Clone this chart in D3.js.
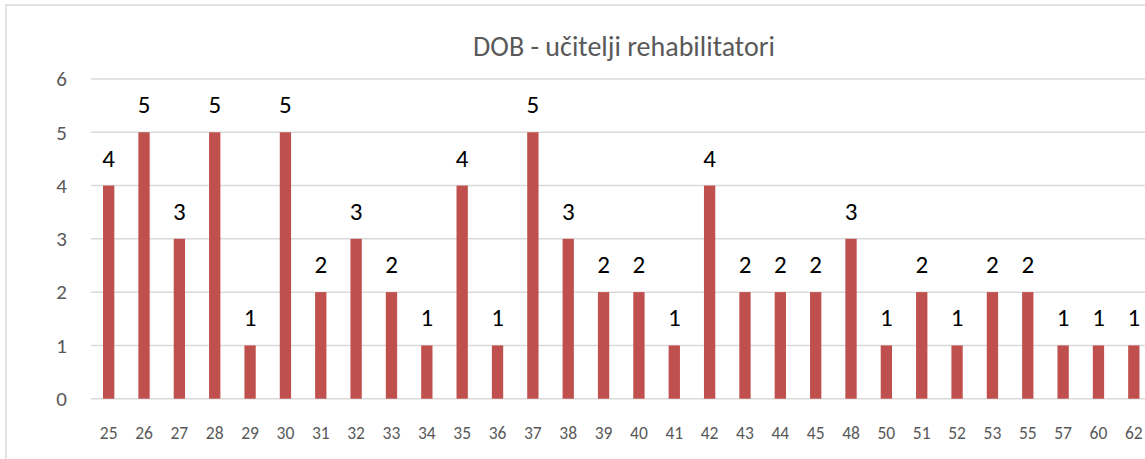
<!DOCTYPE html>
<html>
<head>
<meta charset="utf-8">
<script src="https://cdn.jsdelivr.net/npm/d3@7"></script>
<style>
  body { margin: 0; background: #fff; }
  text { font-family: Calibri, Carlito, Lato, "Liberation Sans", sans-serif; }
</style>
</head>
<body>
<div id="chart"></div>
<script>
//////////////////////// data ////////////////////////
var ages = ["25","26","27","28","29","30","31","32","33","34","35","36","37","38","39",
            "40","41","42","43","44","45","48","50","51","52","53","55","57","60","62"];
var counts = [4,5,3,5,1,5,2,3,2,1,4,1,5,3,2,2,1,4,2,2,2,3,1,2,1,2,2,1,1,1];
var yTicks = [0,1,2,3,4,5,6];
var title = "DOB - učitelji rehabilitatori";

//////////////////////// layout ////////////////////////
var wdim = 1145, hdim = 459;
var margin = {top: 79, left: 91, right: -6.5, bottom: 60};
var width = wdim - margin.left - margin.right,
    height = 398.7 - margin.top;

var svg = d3.select("#chart").append("svg")
  .attr("width", wdim).attr("height", hdim);

// outer chart frame
svg.append("rect")
  .attr("x", 6).attr("y", 5)
  .attr("width", wdim + 20).attr("height", hdim + 20)
  .attr("fill", "none").attr("stroke", "#d9d9d9").attr("stroke-width", 1.5);

svg.append("text")
  .attr("x", 624).attr("y", 56)
  .attr("text-anchor", "middle")
  .attr("font-size", "28px").attr("fill", "#595959")
  .text(title);

var g = svg.append("g")
  .attr("transform", "translate(" + margin.left + "," + margin.top + ")");

var x = d3.scaleBand().domain(ages).range([0, width]).paddingInner(0.68).paddingOuter(0.34);
var y = d3.scaleLinear().domain([0, 6]).range([height, 0]);

// gridlines
g.selectAll("line.grid").data(yTicks).enter().append("line")
  .attr("class", "grid")
  .attr("x1", 0).attr("x2", width)
  .attr("y1", d => y(d)).attr("y2", d => y(d))
  .attr("stroke", "#d9d9d9").attr("stroke-width", 1.5);

// y tick labels
g.selectAll("text.ytick").data(yTicks).enter().append("text")
  .attr("class", "ytick")
  .attr("x", -24).attr("y", d => y(d)).attr("dy", "0.35em")
  .attr("text-anchor", "end")
  .attr("font-size", "21px").attr("fill", "#595959")
  .text(d => d);

// x tick labels
g.selectAll("text.xtick").data(ages).enter().append("text")
  .attr("class", "xtick")
  .attr("x", d => x(d) + x.bandwidth() / 2).attr("y", height + 40.5)
  .attr("text-anchor", "middle")
  .attr("font-size", "17.5px").attr("fill", "#595959")
  .text(d => d);

// bars
g.selectAll("rect.bar").data(counts).enter().append("rect")
  .attr("class", "bar")
  .attr("x", (d, i) => x(ages[i]))
  .attr("width", x.bandwidth())
  .attr("y", d => y(d))
  .attr("height", d => height - y(d))
  .attr("fill", "#c0504d");

// data labels
g.selectAll("text.lbl").data(counts).enter().append("text")
  .attr("class", "lbl")
  .attr("x", (d, i) => x(ages[i]) + x.bandwidth() / 2)
  .attr("y", d => y(d) - 19)
  .attr("text-anchor", "middle")
  .attr("font-size", "25px").attr("fill", "#000")
  .text(d => d);
</script>
</body>
</html>
